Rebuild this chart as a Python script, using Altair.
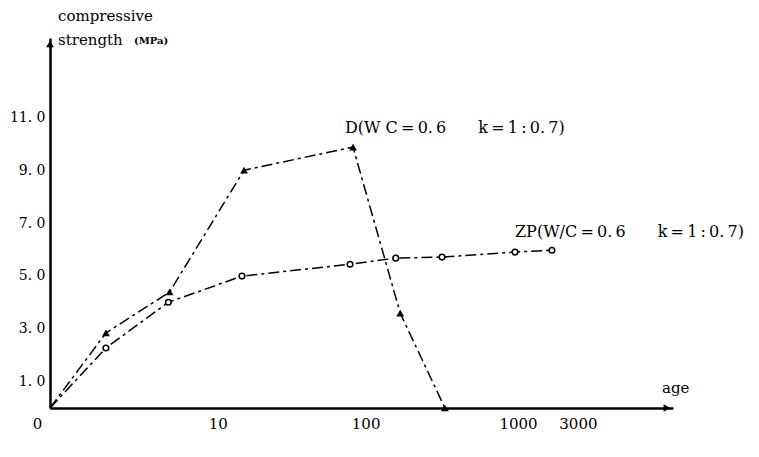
import altair as alt
import pandas as pd

# ---- data ----
d_age = [0, 1.15, 4.4, 15.3, 82.6, 169, 332]
d_strength = [0, 2.84, 4.39, 9.0, 9.87, 3.59, 0.0]
zp_age = [0, 1.15, 4.3, 14.8, 78.9, 158, 318, 956, 1669]
zp_strength = [0, 2.27, 4.0, 4.99, 5.44, 5.67, 5.71, 5.9, 5.97]

x_ticks = [0, 10, 100, 1000, 3000]
y_ticks = [1, 3, 5, 7, 9, 11]
x_max = 10335
y_max = 14

d_label = "D(W C\u2009=\u20090.\u20096\u2002\u2002\u2002\u2002k\u2009=\u20091\u2009:\u20090.\u20097)"
zp_label = "ZP(W/C\u2009=\u20090.\u20096\u2002\u2002\u2002\u2002k\u2009=\u20091\u2009:\u20090.\u20097)"

FONT = "DejaVu Serif"

d_df = pd.DataFrame({"age": d_age, "strength": d_strength})
zp_df = pd.DataFrame({"age": zp_age, "strength": zp_strength})

xscale = alt.Scale(type="symlog", constant=0.87, domain=[0, x_max], nice=False)
yscale = alt.Scale(domain=[0, y_max], nice=False, zero=True)

xaxis = alt.Axis(
    values=x_ticks, title=None, grid=False, ticks=False, domain=True,
    domainColor="black", domainWidth=2.5, labelFont=FONT, labelFontSize=15,
    labelColor="black", labelPadding=8, labelFlush=False, format="d",
    labelOffset=alt.ConditionalAxisNumber(
        condition={"test": "datum.value == 0 || datum.value == 3000", "value": -13},
        value=0,
    ),
)
yaxis = alt.Axis(
    values=y_ticks, title=None, grid=False, ticks=False, domain=True,
    domainColor="black", domainWidth=2.5, labelFont=FONT, labelFontSize=14,
    labelColor="black", labelPadding=5,
    labelExpr="replace(format(datum.value, '.1f'), '.', '. ')",
)

X = alt.X("age:Q", scale=xscale, axis=xaxis)
Y = alt.Y("strength:Q", scale=yscale, axis=yaxis)

dash = [11, 4, 3, 4]

d_line = alt.Chart(d_df).mark_line(color="black", strokeWidth=1.5, strokeDash=dash).encode(x=X, y=Y)
d_pts = alt.Chart(d_df[d_df.age > 0]).mark_point(
    shape="triangle-up", filled=True, color="black", size=60, opacity=1
).encode(x=X, y=Y)

zp_line = alt.Chart(zp_df).mark_line(color="black", strokeWidth=1.5, strokeDash=dash).encode(x=X, y=Y)
zp_pts = alt.Chart(zp_df[zp_df.age > 0]).mark_point(
    shape="circle", filled=True, fill="white", stroke="black", strokeWidth=1.5, size=32, opacity=1
).encode(x=X, y=Y)

# axis arrows at the domain ends
arrow_up = alt.Chart(pd.DataFrame({"age": [0], "strength": [y_max]})).mark_point(
    shape="triangle-up", filled=True, color="black", size=60, opacity=1, yOffset=6
).encode(x=X, y=Y)
arrow_right = alt.Chart(pd.DataFrame({"age": [x_max], "strength": [0]})).mark_point(
    shape="triangle-right", filled=True, color="black", size=60, opacity=1, xOffset=-6
).encode(x=X, y=Y)

def label(text, x, y, size=15, weight="normal"):
    return alt.Chart(pd.DataFrame({"t": [text]})).mark_text(
        align="left", baseline="middle", font=FONT, fontSize=size, fontWeight=weight, color="black"
    ).encode(x=alt.value(x), y=alt.value(y), text="t:N")

texts = [
    label(d_label, 295, 90, 16),
    label(zp_label, 465, 194, 16),
    label("age", 612, 350, 15),
    label("compressive", 8, -22, 15),
    label("strength", 8, 2, 15),
    label("(MPa)", 84, 3, 10, "bold"),
]

chart = alt.layer(
    d_line, zp_line, d_pts, zp_pts, arrow_up, arrow_right, *texts
).properties(
    width=623, height=370,
    autosize=alt.AutoSizeParams(type="none"),
    padding={"left": 42, "top": 30, "right": 78, "bottom": 30},
    background="white",
).configure_view(stroke=None)

chart.save("out.html", embed_options={"renderer": "svg", "actions": False})
